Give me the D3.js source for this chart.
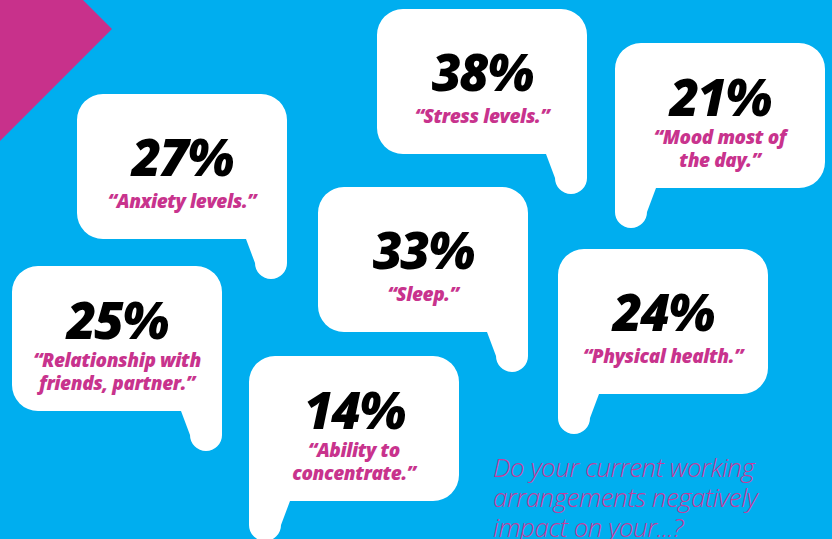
<!DOCTYPE html>
<html><head><meta charset="utf-8">
<script src="https://cdn.jsdelivr.net/npm/d3@7"></script>
<style>html,body{margin:0;padding:0;background:#00aeef;overflow:hidden}</style>
</head><body>
<svg id="c" width="832" height="539"></svg>
<script>
// ---- data ----
const categories = ["Stress levels.", "Sleep.", "Anxiety levels.", "Relationship with|friends, partner.", "Physical health.", "Mood most of|the day.", "Ability to|concentrate."];
const values = [38, 33, 27, 25, 24, 21, 14];
const question = ["Do your current working", "arrangements negatively", "impact on your...?"];

// ---- layout (positions kept separate from data) ----
const layout = [
  {x: 377, y: 9,   tail: "right"},
  {x: 318, y: 187, tail: "right"},
  {x: 77,  y: 94,  tail: "right"},
  {x: 12,  y: 266, tail: "right"},
  {x: 558, y: 249, tail: "left"},
  {x: 615, y: 43,  tail: "left"},
  {x: 249, y: 356, tail: "left"}
];
const BW = 210, BH = 145, R = 26, TL = 40, TW = 41, TR = 16;
const magenta = "#c8338d";

const svg = d3.select("#c");
svg.append("rect").attr("width", 832).attr("height", 539).attr("fill", "#00aeef");
svg.append("path").attr("d", "M0,0 L83,0 L112,29 L0,141 Z").attr("fill", "#c8318b");

function bubblePath(x0, y0, side) {
  const x1 = x0 + BW, y1 = y0 + BH, tb = y1 + TL;
  const p = d3.path();
  p.moveTo(x0 + R, y0);
  p.lineTo(x1 - R, y0);
  p.arcTo(x1, y0, x1, y0 + R, R);
  if (side === "right") {
    p.lineTo(x1, tb - TR);
    p.arc(x1 - TR, tb - TR, TR, 0, Math.PI, false);
    p.lineTo(x1 - TW, y1);
    p.lineTo(x0 + R, y1);
    p.arcTo(x0, y1, x0, y1 - R, R);
    p.lineTo(x0, y0 + R);
    p.arcTo(x0, y0, x0 + R, y0, R);
  } else {
    p.lineTo(x1, y1 - R);
    p.arcTo(x1, y1, x1 - R, y1, R);
    p.lineTo(x0 + TW, y1);
    p.lineTo(x0 + 2 * TR, tb - TR);
    p.arc(x0 + TR, tb - TR, TR, 0, Math.PI, false);
    p.lineTo(x0, y0 + R);
    p.arcTo(x0, y0, x0 + R, y0, R);
  }
  p.closePath();
  return p.toString();
}

const fmt = d => d3.format("d")(d) + "%";
const items = values.map((v, i) => ({v, label: categories[i].split("|"), ...layout[i]}));

const g = svg.selectAll("g.b").data(items).join("g").attr("class", "b");
g.append("path").attr("d", d => bubblePath(d.x, d.y, d.tail)).attr("fill", "#fff");
g.append("text")
  .attr("x", d => d.x + BW / 2)
  .attr("y", d => d.y + (d.label.length > 1 ? 73 : 82))
  .attr("text-anchor", "middle")
  .attr("font-family", "'Open Sans', sans-serif")
  .attr("font-weight", 800).attr("font-style", "italic")
  .attr("font-size", 51).attr("letter-spacing", -2)
  .attr("fill", "#000")
  .text(d => fmt(d.v));
g.each(function(d) {
  const t = d3.select(this).append("text")
    .attr("text-anchor", "middle")
    .attr("font-family", "'Open Sans', sans-serif")
    .attr("font-weight", 800).attr("font-style", "italic")
    .attr("font-size", 19).attr("letter-spacing", -0.4)
    .attr("fill", magenta);
  const n = d.label.length;
  d.label.forEach((line, j) => {
    let s = line;
    if (j === 0) s = "\u201C" + s;
    if (j === n - 1) s = s + "\u201D";
    t.append("tspan").attr("x", d.x + BW / 2)
      .attr("y", d.y + (n > 1 ? 101 + j * 23 : 114))
      .text(s);
  });
});

svg.append("text")
  .attr("font-family", "'Open Sans', sans-serif")
  .attr("font-weight", 300).attr("font-style", "italic")
  .attr("font-size", 26).attr("letter-spacing", -0.5)
  .attr("fill", "#c53d9b")
  .selectAll("tspan").data(question).join("tspan")
  .attr("x", 493).attr("y", (d, i) => 477 + i * 30)
  .text(d => d);
</script>
</body></html>
